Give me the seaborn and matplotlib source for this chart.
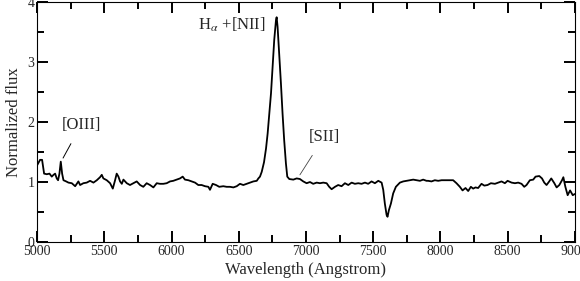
import matplotlib
matplotlib.use('Agg')
import matplotlib.pyplot as plt
from matplotlib.ticker import MultipleLocator
import pandas as pd
import seaborn as sns

# Spectrum (Angstrom, normalized flux)
wavelength = [
    5000, 5022, 5037, 5052, 5072, 5092, 5109, 5122, 5134, 5146, 5156, 5166, 5176, 5186, 5196,
    5216, 5233, 5258, 5283, 5307, 5320, 5344, 5369, 5394, 5419, 5444, 5468, 5481, 5493, 5518,
    5543, 5563, 5580, 5592, 5605, 5617, 5630, 5642, 5667, 5691, 5716, 5741, 5766, 5790, 5815,
    5840, 5865, 5890, 5914, 5939, 5964, 5989, 6013, 6038, 6063, 6083, 6100, 6125, 6150, 6175,
    6199, 6224, 6249, 6274, 6286, 6306, 6331, 6355, 6385, 6410, 6435, 6460, 6485, 6509, 6534,
    6559, 6584, 6609, 6634, 6646, 6658, 6671, 6688, 6703, 6715, 6727, 6740, 6752, 6764, 6777,
    6782, 6789, 6801, 6814, 6826, 6838, 6851, 6861, 6876, 6906, 6931, 6955, 6980, 7005, 7030,
    7054, 7080, 7104, 7129, 7154, 7173, 7191, 7216, 7240, 7265, 7290, 7315, 7340, 7364, 7389,
    7414, 7439, 7463, 7488, 7513, 7538, 7563, 7575, 7587, 7600, 7607, 7617, 7632, 7649, 7669,
    7699, 7724, 7749, 7773, 7798, 7823, 7848, 7872, 7897, 7909, 7934, 7959, 7984, 8009, 8033,
    8058, 8095, 8120, 8145, 8165, 8187, 8207, 8227, 8244, 8261, 8281, 8306, 8327, 8351, 8376,
    8406, 8431, 8455, 8480, 8500, 8530, 8555, 8579, 8604, 8624, 8641, 8666, 8691, 8708, 8736,
    8756, 8773, 8790, 8810, 8825, 8848, 8865, 8885, 8905, 8915, 8930, 8947, 8965, 8985, 9000,
]
flux = [
    1.28, 1.37, 1.37, 1.14, 1.13, 1.14, 1.09, 1.12, 1.14, 1.06, 1.03, 1.14, 1.34, 1.14, 1.03,
    1.01, 0.99, 0.98, 0.93, 1.01, 0.95, 0.98, 0.99, 1.02, 0.99, 1.03, 1.08, 1.12, 1.06, 1.03,
    0.98, 0.89, 1.03, 1.14, 1.09, 1.01, 0.97, 1.04, 0.98, 0.95, 0.98, 1.01, 0.95, 0.92, 0.98,
    0.95, 0.91, 0.98, 0.97, 0.97, 0.98, 1.01, 1.02, 1.04, 1.06, 1.09, 1.04, 1.03, 1.01, 0.99,
    0.95, 0.95, 0.93, 0.92, 0.87, 0.97, 0.95, 0.92, 0.93, 0.92, 0.92, 0.91, 0.93, 0.97, 0.95,
    0.97, 0.99, 1.01, 1.02, 1.06, 1.09, 1.17, 1.33, 1.56, 1.81, 2.14, 2.48, 2.92, 3.37, 3.70,
    3.75, 3.59, 3.14, 2.64, 2.14, 1.70, 1.31, 1.09, 1.05, 1.04, 1.06, 1.05, 1.01, 0.98, 1.00,
    0.97, 0.99, 0.98, 0.99, 0.98, 0.92, 0.88, 0.92, 0.95, 0.93, 0.98, 0.95, 0.99, 0.97, 0.98,
    0.97, 0.99, 0.97, 1.01, 0.98, 1.02, 0.99, 0.87, 0.64, 0.45, 0.42, 0.53, 0.64, 0.81, 0.92,
    0.99, 1.01, 1.02, 1.03, 1.04, 1.03, 1.02, 1.04, 1.02, 1.02, 1.01, 1.03, 1.02, 1.03, 1.03,
    1.03, 1.03, 0.98, 0.92, 0.86, 0.90, 0.85, 0.92, 0.89, 0.91, 0.90, 0.97, 0.94, 0.95, 0.98,
    0.97, 0.99, 1.01, 0.98, 1.02, 0.99, 0.98, 0.99, 0.97, 0.92, 0.95, 1.03, 1.04, 1.09, 1.10,
    1.06, 0.99, 0.95, 1.01, 1.06, 0.98, 0.91, 0.95, 1.03, 1.08, 0.92, 0.78, 0.86, 0.78, 0.80,
]

# Line labels
line_labels = ['[OIII]', r'H$_\alpha$ +[NII]', '[SII]']

df = pd.DataFrame({'wavelength': wavelength, 'flux': flux})

sns.set_style('ticks', {'axes.edgecolor': 'black', 'axes.linewidth': 1.3})
plt.rcParams['font.family'] = ['Liberation Serif', 'DejaVu Serif']
plt.rcParams['mathtext.fontset'] = 'stix'

fig = plt.figure(figsize=(5.8, 2.81), dpi=100)
ax = fig.add_axes([0.064, 0.139, 0.927, 0.853])
ax.set_axisbelow(False)

sns.lineplot(data=df, x='wavelength', y='flux', color='black', linewidth=1.3, ax=ax)

ax.set_xlim(5000, 9000)
ax.set_ylim(0, 4)
ax.xaxis.set_major_locator(MultipleLocator(500))
ax.xaxis.set_minor_locator(MultipleLocator(250))
ax.yaxis.set_major_locator(MultipleLocator(1))
ax.yaxis.set_minor_locator(MultipleLocator(0.5))
ax.tick_params(which='major', direction='in', length=8, width=1.4, color='k',
               top=True, right=True, labelsize=10, pad=2)
ax.tick_params(which='minor', direction='in', length=5, width=1.4, color='k',
               top=True, right=True)

ax.set_xlabel('Wavelength (Angstrom)', fontsize=12, labelpad=3)
ax.set_ylabel('Normalized flux', fontsize=12, labelpad=4)

ax.annotate(line_labels[0], xy=(5193, 1.4), xytext=(5327, 1.95), fontsize=12,
            ha='center', va='center',
            arrowprops=dict(arrowstyle='-', color='black', lw=0.7, shrinkA=6, shrinkB=0))
ax.text(6703, 3.62, line_labels[1], fontsize=12, ha='right', va='center')
ax.annotate(line_labels[2], xy=(6955, 1.12), xytext=(7134, 1.75), fontsize=12,
            ha='center', va='center',
            arrowprops=dict(arrowstyle='-', color='#444444', lw=0.6, shrinkA=6, shrinkB=0))

fig.savefig('out.png', dpi=100)
